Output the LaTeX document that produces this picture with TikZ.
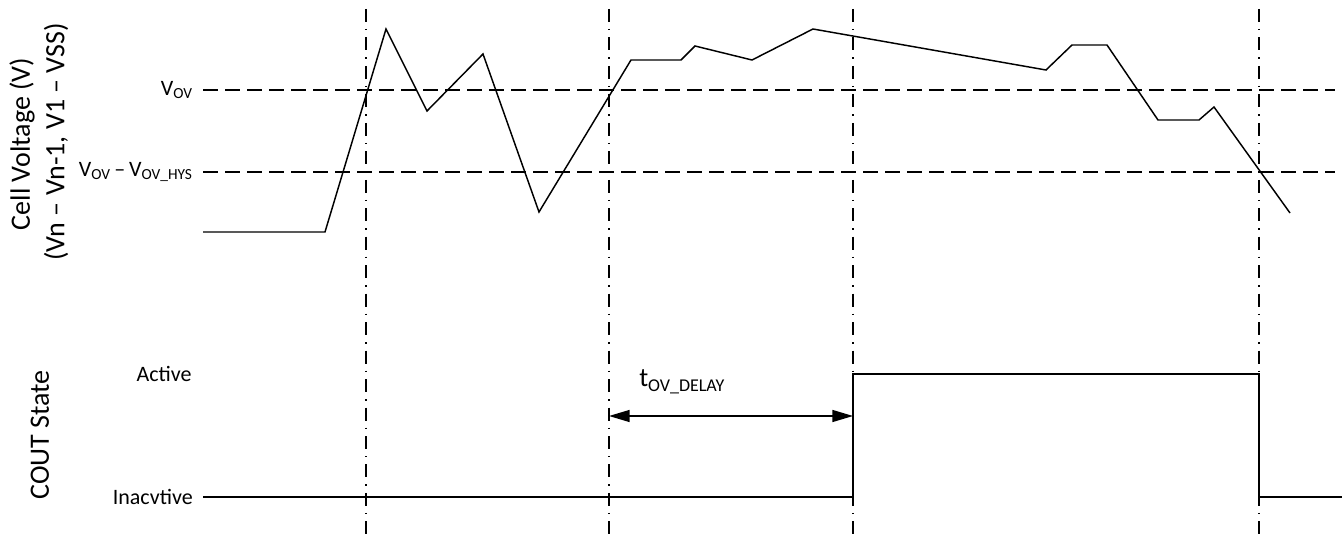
\documentclass[tikz,border=0pt]{standalone}
\usepackage{fontspec}
\setmainfont{Carlito}
\usetikzlibrary{arrows.meta}
\tikzset{
  wave/.style={line width=1.1pt, line join=miter},
  level/.style={line width=1.1pt, dash pattern=on 11.25pt off 5.25pt},
  marker/.style={line width=1.1pt, dash pattern=on 9.75pt off 5.25pt on 1.1pt off 5.25pt},
  axislabel/.style={font=\fontsize{21pt}{25pt}\selectfont, rotate=90, align=center},
  lvl/.style={font=\fontsize{16.5pt}{19pt}\selectfont, anchor=east, inner sep=0pt},
  dim/.style={line width=1.1pt, {Triangle[length=15.5pt,width=9pt]}-{Triangle[length=15.5pt,width=9pt]}}
}
\begin{document}
\begin{tikzpicture}[x=0.75pt,y=-0.75pt]
\useasboundingbox (0,0) rectangle (1343,538);
% axis labels
\node[axislabel] (celllbl) at (22,144) {Cell Voltage (V)};
\node[axislabel] (rangelbl) at (56,142) {(Vn – Vn-1, V1 – VSS)};
\node[axislabel] (coutlbl) at (40,435) {COUT State};
% level labels
\node[lvl] (vov) at (193,90) {V\textsubscript{OV}};
\node[lvl] (vhys) at (193,172) {V\textsubscript{OV}\,–\,V\textsubscript{OV\_HYS}};
\node[lvl, anchor=center] (act) at (164,374) {Active};
\node[lvl] (inact) at (193,497) {Inacvtive};
% marker lines
\foreach \x/\n in {366/m1, 609/m2, 853/m3, 1259/m4} {
  \coordinate (\n top) at (\x,9);
  \coordinate (\n bot) at (\x,538);
  \draw[marker] (\n top) -- (\n bot);
}
% threshold lines
\coordinate (ovL) at (203,90); \coordinate (ovR) at (1335,90);
\coordinate (hyL) at (203,172); \coordinate (hyR) at (1335,172);
\draw[level] (ovL) -- (ovR);
\draw[level] (hyL) -- (hyR);
% cell voltage waveform
\draw[wave] (203,232) -- (325,232) -- (386,29) -- (427,111) -- (483,54) -- (539,212)
  -- (631,60) -- (681,60) -- (695,46) -- (752,60) -- (813,29) -- (1046,70)
  -- (1072,45) -- (1107,45) -- (1158,120) -- (1199,120) -- (1214,107) -- (1290,213);
% COUT state
\draw[wave] (203,497) -- (853,497) -- (853,374) -- (1259,374) -- (1259,497) -- (1342,497);
% delay dimension
\coordinate (dL) at (609,416);
\coordinate (dR) at (853,416);
\draw[dim] (dL) -- (dR);
\node[anchor=base west, inner sep=0pt, font=\fontsize{20pt}{24pt}\selectfont] (tdelay) at (639,387)
  {t{\fontsize{13.5pt}{16pt}\selectfont\raisebox{-3.5pt}{OV\_DELAY}}};
\end{tikzpicture}
\end{document}
